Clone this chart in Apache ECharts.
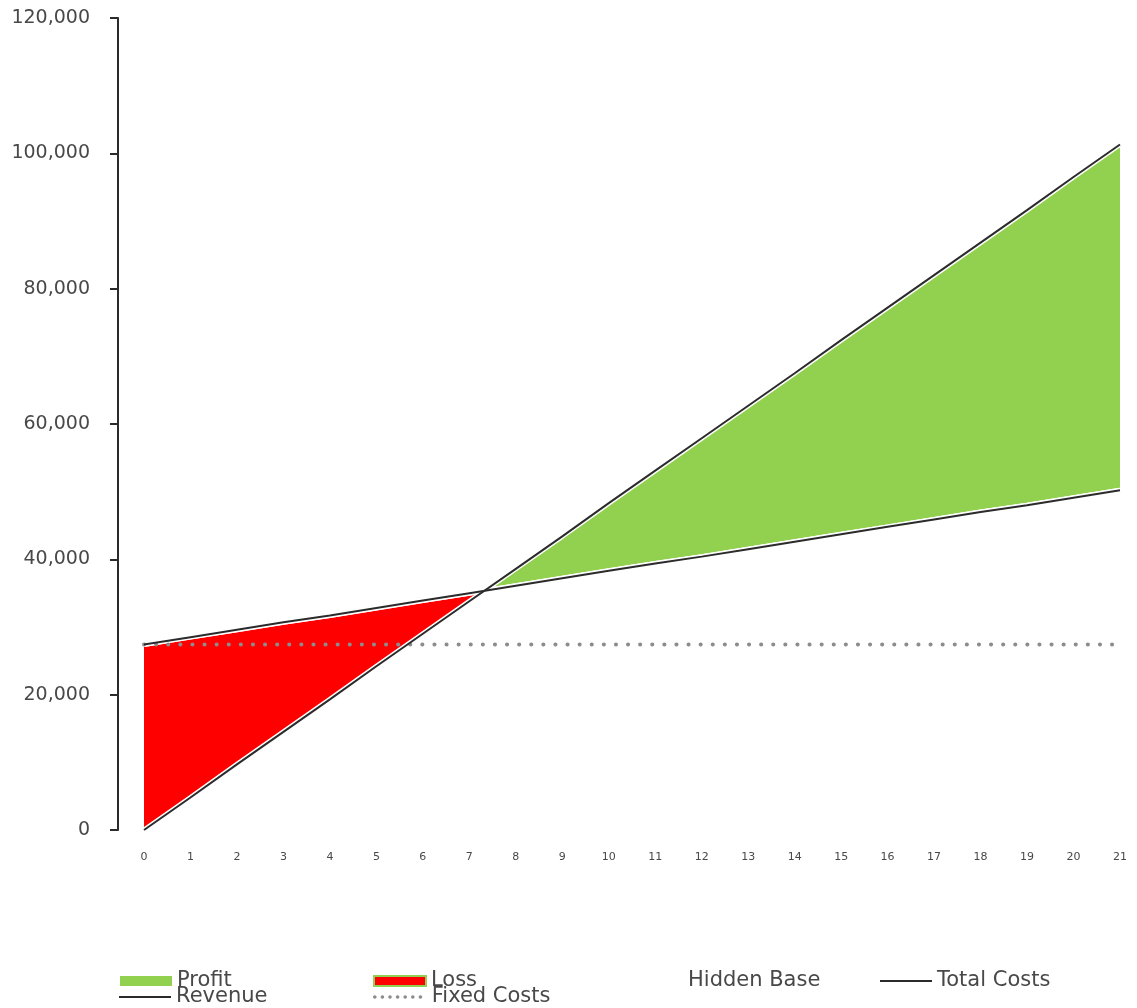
<!DOCTYPE html>
<html>
<head>
<meta charset="utf-8">
<script src="https://cdn.jsdelivr.net/npm/echarts@6/dist/echarts.min.js"></script>
<style>
  html, body { margin: 0; padding: 0; background: #fff; }
  #chart { width: 1137px; height: 1008px; }
</style>
</head>
<body>
<div id="chart"></div>
<script>
// ---- Data ----
const units = [0, 1, 2, 3, 4, 5, 6, 7, 8, 9, 10, 11, 12, 13, 14, 15, 16, 17, 18, 19, 20, 21];
const revenue = [0, 4800, 9700, 14500, 19300, 24200, 29000, 33800, 38600, 43400, 48300,
                 53100, 57900, 62700, 67500, 72400, 77200, 82000, 86800, 91600, 96500, 101300];
const totalCosts = [27400, 28500, 29600, 30700, 31700, 32800, 33900, 35000, 36100, 37200, 38300,
                    39400, 40400, 41500, 42600, 43700, 44800, 45900, 47000, 48000, 49100, 50200];
const fixedCosts = [27400, 27400, 27400, 27400, 27400, 27400, 27400, 27400, 27400, 27400, 27400,
                    27400, 27400, 27400, 27400, 27400, 27400, 27400, 27400, 27400, 27400, 27400];
const yTicks = [0, 20000, 40000, 60000, 80000, 100000, 120000];

// ---- Derived series for the stacked profit / loss bands ----
const pts = [];
for (let i = 0; i < units.length; i++) {
  pts.push({ x: units[i], r: revenue[i], c: totalCosts[i] });
  if (i < units.length - 1) {
    const d0 = totalCosts[i] - revenue[i];
    const d1 = totalCosts[i + 1] - revenue[i + 1];
    if ((d0 > 0 && d1 < 0) || (d0 < 0 && d1 > 0)) {
      const t = d0 / (d0 - d1);
      const r = revenue[i] + t * (revenue[i + 1] - revenue[i]);
      pts.push({ x: units[i] + t * (units[i + 1] - units[i]), r: r, c: r });
    }
  }
}
// value first, units second (so the stack is computed on the value dimension)
const baseData = pts.map(p => [Math.min(p.r, p.c), p.x]);
const lossData = pts.map(p => [Math.max(p.c - p.r, 0), p.x]);
const profitData = pts.map(p => [Math.max(p.r - p.c, 0), p.x]);
const pair = arr => units.map((u, i) => [u, arr[i]]);

const FONT = 'DejaVu Sans';
const TXT = '#484848';
const LINE = '#2b2b2b';
const DOT = '#8c8c8c';

function legendAt(name, left, top, extra) {
  return {
    data: [Object.assign({ name: name }, extra || {})],
    left: left, top: top, orient: 'horizontal', padding: 0,
    itemWidth: 52, itemHeight: 10, selectedMode: false,
    textStyle: { fontFamily: FONT, fontSize: 21, color: TXT, lineHeight: 22 }
  };
}

const option = {
  backgroundColor: '#ffffff',
  animation: false,
  grid: { left: 144, right: 17, top: 18, bottom: 178, containLabel: false },
  xAxis: {
    type: 'value', min: units[0], max: units[units.length - 1], interval: 1,
    axisLine: { show: false }, axisTick: { show: false }, splitLine: { show: false },
    axisLabel: { fontFamily: FONT, fontSize: 11, color: TXT, margin: 22,
                 formatter: v => String(units[Math.round(v)]) }
  },
  yAxis: {
    type: 'value', min: yTicks[0], max: yTicks[yTicks.length - 1], interval: 20000,
    offset: 26,
    axisLine: { show: true, onZero: false, lineStyle: { color: LINE, width: 2 } },
    axisTick: { show: true, length: 8, lineStyle: { color: LINE, width: 2 } },
    splitLine: { show: false },
    axisLabel: { fontFamily: FONT, fontSize: 19, color: TXT, margin: 28,
                 formatter: v => v.toLocaleString('en-US') }
  },
  legend: [
    legendAt('Profit', 120, 970, { icon: 'rect' }),
    legendAt('Loss', 373, 970, { icon: 'rect', itemStyle: { color: '#ff0000', borderColor: '#92d050', borderWidth: 2 } }),
    legendAt('Hidden Base', 631, 970, { icon: 'rect', itemStyle: { color: 'rgba(0,0,0,0)', borderWidth: 0 } }),
    legendAt('Total Costs', 879, 970, { itemStyle: { opacity: 0 }, lineStyle: { color: LINE, width: 2, shadowBlur: 0 } }),
    legendAt('Revenue', 118, 986, { itemStyle: { opacity: 0 }, lineStyle: { color: LINE, width: 2, shadowBlur: 0 } }),
    legendAt('Fixed Costs', 373, 986, { itemStyle: { opacity: 0 },
      lineStyle: { color: DOT, width: 3.5, type: [0.1, 7.5], cap: 'round' } })
  ],
  series: [
    {
      name: 'Hidden Base', type: 'line', stack: 'band', data: baseData,
      encode: { x: 1, y: 0 },
      symbol: 'none', lineStyle: { width: 5, color: '#ffffff' },
      itemStyle: { color: 'rgba(0,0,0,0)' }, silent: true, z: 3
    },
    {
      name: 'Loss', type: 'line', stack: 'band', data: lossData,
      encode: { x: 1, y: 0 },
      symbol: 'none', lineStyle: { width: 5, color: '#ffffff' },
      itemStyle: { color: '#ff0000' },
      areaStyle: { color: '#ff0000', opacity: 1 }, z: 2
    },
    {
      name: 'Profit', type: 'line', stack: 'band', data: profitData,
      encode: { x: 1, y: 0 },
      symbol: 'none', lineStyle: { width: 5, color: '#ffffff' },
      itemStyle: { color: '#92d050' },
      areaStyle: { color: '#92d050', opacity: 1 }, z: 2
    },
    {
      name: 'Total Costs', type: 'line', data: pair(totalCosts), symbol: 'none',
      itemStyle: { color: LINE },
      lineStyle: { color: LINE, width: 2 }, z: 5
    },
    {
      name: 'Revenue', type: 'line', data: pair(revenue), symbol: 'none',
      itemStyle: { color: LINE },
      lineStyle: { color: LINE, width: 2 }, z: 5
    },
    {
      name: 'Fixed Costs', type: 'line', data: pair(fixedCosts), symbol: 'none',
      itemStyle: { color: DOT },
      lineStyle: { color: DOT, width: 4, type: [0.1, 12], cap: 'round' }, z: 4
    }
  ]
};

const chart = echarts.init(document.getElementById('chart'), null, { renderer: 'canvas' });
chart.setOption(option);
</script>
</body>
</html>
